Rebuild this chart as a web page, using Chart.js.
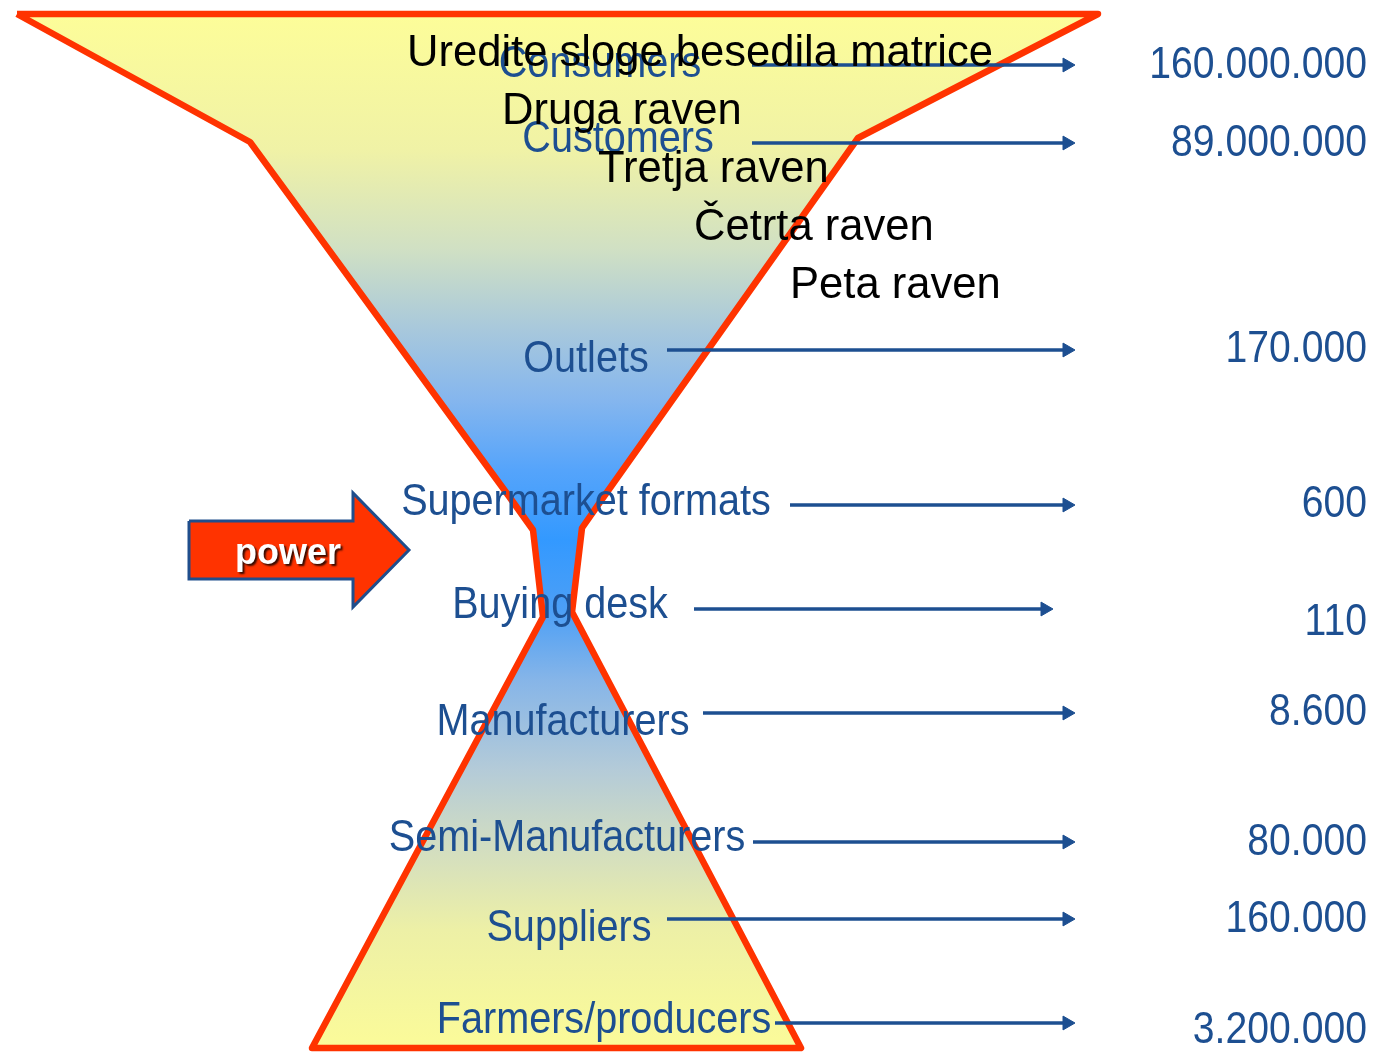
<!DOCTYPE html>
<html>
<head>
<meta charset="utf-8">
<script src="https://cdn.jsdelivr.net/npm/chart.js@4.4.0/dist/chart.umd.min.js"></script>
<style>
html,body{margin:0;padding:0;background:#fff;overflow:hidden}
canvas{display:block}
</style>
</head>
<body>
<canvas id="myChart" width="1378" height="1053"></canvas>
<script>
// supply chain levels, top to bottom, and how many there are of each
let levels=["Consumers","Customers","Outlets","Supermarket formats","Buying desk","Manufacturers","Semi-Manufacturers","Suppliers","Farmers/producers"];
let counts=[160000000,89000000,170000,600,110,8600,80000,160000,3200000];
// leftover placeholder text of the slide master
let placeholderLines=["Uredite sloge besedila matrice","Druga raven","Tretja raven","Četrta raven","Peta raven"];

// layout, in picture pixels (the scales run 0..1378 and 0..1053)
let labelX=[600,618,586,586,560,563,567,569,604];
let labelY=[65,140,360,503,606,723,839,929,1021];
let valueY=[66,144,350,505,623,713,843,920,1031];
let arrowY=[65,143,350,505,609,713,842,919,1023];
let arrowStart=[752,752,667,790,694,703,753,667,775];
let arrowEnd=[1072,1072,1072,1072,1050,1072,1072,1072,1072];
let placeholderX=[407,502,598,694,790];
let placeholderBase=[66,124,182,240,298];

let hourglass=[
    {x:17,y:14},{x:1098,y:14},{x:858,y:138},{x:605,y:495},{x:582,y:528},
    {x:572,y:612},{x:801,y:1048},{x:312,y:1048},{x:543,y:617},{x:533,y:530},
    {x:508,y:495},{x:250,y:142},{x:17,y:14}
];
let powerArrow=[
    {x:189,y:521},{x:353,y:521},{x:353,y:493},{x:409,y:550},{x:353,y:607},
    {x:353,y:579},{x:189,y:579},{x:189,y:521}
];

const blue='#1d4f91';
const red='#ff3300';

let fmt=(n)=>String(n).replace(/\B(?=(\d{3})+(?!\d))/g,'.');

let hourglassFill=(context)=>{
    const chart=context.chart;
    const y=chart.scales.y;
    if(!y || !chart.chartArea) return '#fafa9a';
    const top=y.getPixelForValue(14), bottom=y.getPixelForValue(1048);
    if(!isFinite(top) || !isFinite(bottom) || top===bottom) return '#fafa9a';
    const g=chart.ctx.createLinearGradient(0,top,0,bottom);
    // stops given as picture y positions
    const stops=[[14,'#fdfd99'],[150,'#f0f2a6'],[250,'#d0e0c4'],[330,'#a8c8dc'],[400,'#85b6ee'],
        [470,'#55a4fb'],[540,'#3399ff'],[610,'#4c9ff6'],[680,'#86b5e8'],[770,'#b4cbd8'],
        [850,'#d3dec0'],[930,'#edf0a6'],[1048,'#fbfb99']];
    stops.forEach(s=>g.addColorStop((s[0]-14)/(1048-14),s[1]));
    return g;
};

// text layer
let textPlugin={
    id:'texts',
    afterDatasetsDraw(chart){
        const ctx=chart.ctx;
        const xs=chart.scales.x, ys=chart.scales.y;
        let drawScaled=(text,x,y,align,sx)=>{
            ctx.save();
            ctx.translate(x,y);
            ctx.scale(sx,1);
            ctx.textAlign=align;
            ctx.fillText(text,0,0);
            ctx.restore();
        };
        // level names
        ctx.fillStyle=blue;
        ctx.font='44px "Liberation Sans", Arial, sans-serif';
        ctx.textBaseline='middle';
        levels.forEach((name,i)=>{
            drawScaled(name,xs.getPixelForValue(labelX[i]),ys.getPixelForValue(labelY[i]),'center',0.9);
        });
        // counts
        counts.forEach((c,i)=>{
            drawScaled(fmt(c),xs.getPixelForValue(1367),ys.getPixelForValue(valueY[i]),'right',0.89);
        });
        // placeholder text
        ctx.fillStyle='#000';
        ctx.font='44px "Liberation Sans", Arial, sans-serif';
        ctx.textBaseline='alphabetic';
        placeholderLines.forEach((t,i)=>{
            drawScaled(t,xs.getPixelForValue(placeholderX[i]),ys.getPixelForValue(placeholderBase[i]),'left',0.99);
        });
        // power label
        ctx.save();
        ctx.font='bold 36px "Liberation Sans", Arial, sans-serif';
        ctx.textAlign='center';
        ctx.textBaseline='middle';
        ctx.shadowColor='rgba(0,0,0,0.8)';
        ctx.shadowOffsetX=2;
        ctx.shadowOffsetY=2;
        ctx.shadowBlur=2;
        ctx.fillStyle='#fff';
        ctx.fillText('power',xs.getPixelForValue(288),ys.getPixelForValue(554));
        ctx.restore();
    }
};

let arrowSets=levels.map((name,i)=>({
    type:'line',
    label:name,
    data:[{x:arrowStart[i],y:arrowY[i]},{x:arrowEnd[i]-8,y:arrowY[i]}],
    borderColor:blue,
    borderWidth:3.5,
    pointRadius:0,
    fill:false,
    order:1
}));

let headSet={
    type:'scatter',
    label:'heads',
    data:levels.map((n,i)=>({x:arrowEnd[i]-5,y:arrowY[i]})),
    pointStyle:'triangle',
    rotation:90,
    pointRadius:8,
    backgroundColor:blue,
    borderColor:blue,
    borderWidth:1,
    order:0
};

const ctx=document.getElementById('myChart').getContext('2d');
const myChart=new Chart(ctx,{
    type:'line',
    data:{
        datasets:[
            headSet,
            ...arrowSets,
            {
                label:'power',
                data:powerArrow,
                borderColor:'#1f4e8c',
                borderWidth:3,
                backgroundColor:red,
                fill:'shape',
                pointRadius:0,
                tension:0,
                order:2
            },
            {
                label:'hourglass',
                data:hourglass,
                borderColor:red,
                borderWidth:6.5,
                borderJoinStyle:'round',
                backgroundColor:hourglassFill,
                fill:'shape',
                pointRadius:0,
                tension:0,
                order:3
            }
        ]
    },
    options:{
        responsive:false,
        animation:false,
        events:[],
        layout:{padding:0,autoPadding:false},
        plugins:{legend:{display:false},tooltip:{enabled:false}},
        scales:{
            x:{type:'linear',min:0,max:1378,display:false},
            y:{type:'linear',min:0,max:1053,reverse:true,display:false}
        }
    },
    plugins:[textPlugin]
});
</script>
</body>
</html>
